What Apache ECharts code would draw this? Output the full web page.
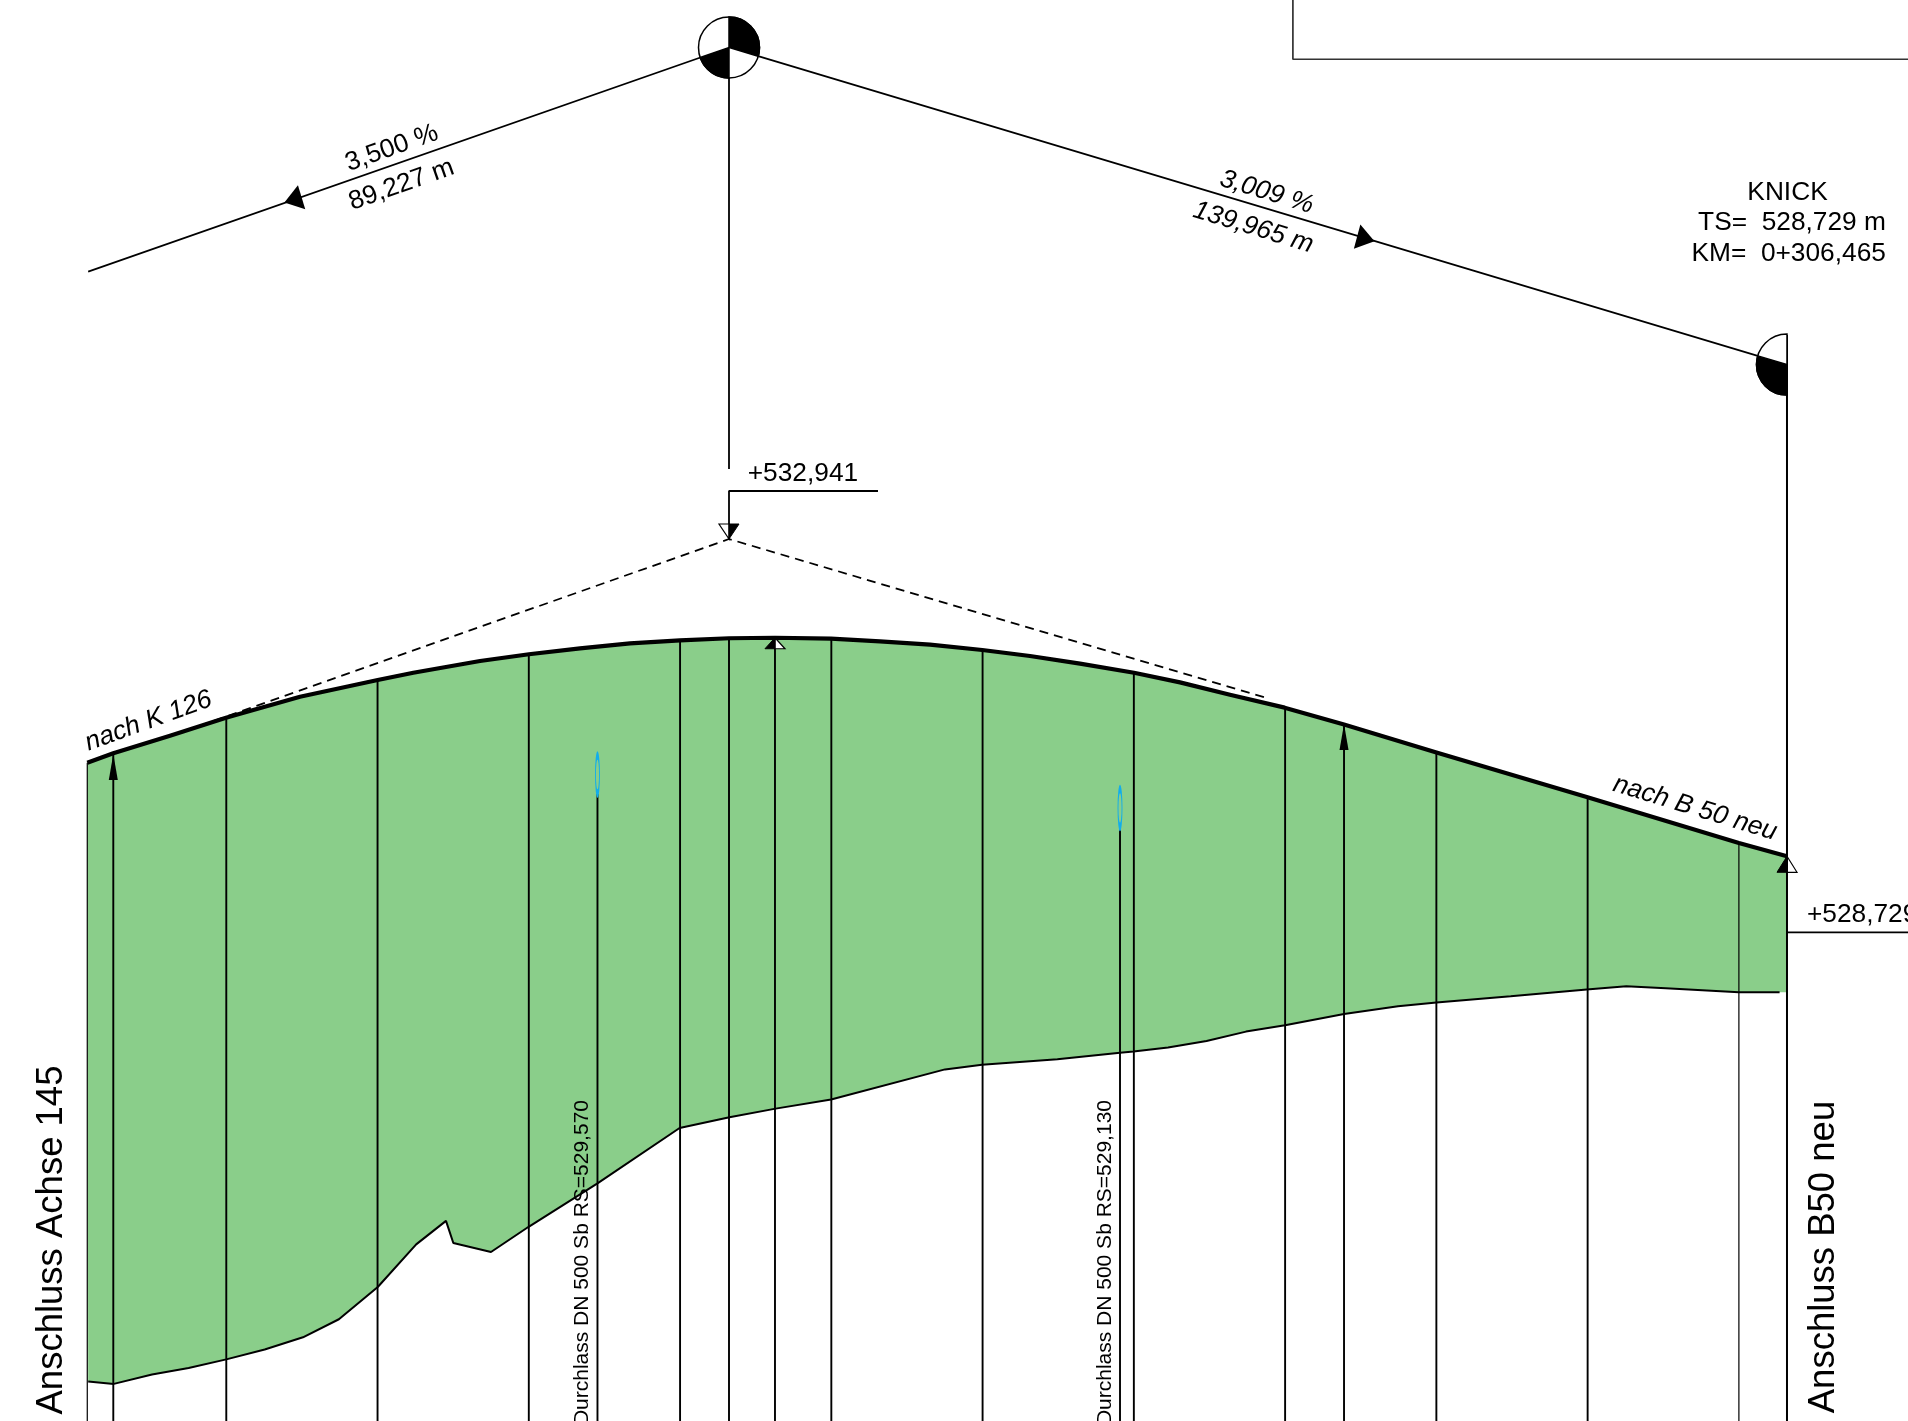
<!DOCTYPE html>
<html>
<head>
<meta charset="utf-8">
<script src="https://cdn.jsdelivr.net/npm/echarts@6/dist/echarts.min.js"></script>
<style>html,body{margin:0;padding:0;background:#fff}#c{width:1908px;height:1421px}</style>
</head>
<body>
<div id="c"></div>
<script>
// Stations (m) and elevations (m) read from the long section
const surfaceS = [81.62,85.06,92.56,99.96,109.75,120.02,124.73,133.55,140.02,146.77,153.38,159.99,166.47,172.55,179.95,186.43,193.05,199.96,206.27,212.88,220.02,226.10,232.71,239.94,247.79,260.01,279.88,300.00,306.36];
const surfaceE = [529.982,530.106,530.339,530.577,530.855,531.076,531.172,531.327,531.416,531.495,531.561,531.601,531.628,531.635,531.622,531.588,531.543,531.473,531.393,531.292,531.172,531.045,530.881,530.710,530.487,530.116,529.528,528.920,528.744];
const groundS = [81.74,85.13,90.18,95.02,100.00,105.08,110.14,114.89,120.03,125.11,129.05,130.02,135.00,139.98,149.08,159.94,166.53,172.64,179.97,195.03,199.92,209.89,218.17,219.95,224.52,229.61,234.83,239.99,247.79,254.93,260.01,269.83,279.88,285.11,290.33,300.00,305.38];
const groundE = [521.795,521.765,521.890,521.975,522.089,522.220,522.381,522.620,523.047,523.610,523.921,523.628,523.509,523.843,524.418,525.150,525.292,525.406,525.527,525.925,525.988,526.060,526.144,526.162,526.216,526.301,526.425,526.509,526.659,526.761,526.809,526.893,526.983,527.024,527.000,526.946,526.946];
const gradeS = [81.74,166.47,306.35];
const gradeE = [536.477,539.443,535.248];
const tangentS = [96.5,166.47,237.2];
const tangentE = [530.47,532.941,530.85];
const stakeS = [81.62,85.06,100,120,140,160,166.47,172.55,180,200,220,240,247.79,260,280,300];
const stakeTopE = [529.982,530.106,530.577,531.076,531.416,531.601,531.628,531.635,531.622,531.473,531.172,530.710,530.487,530.116,529.528,528.920];
const culvertS = [149.08,218.17];
const culvertCentreE = [529.826,529.383];
const culvertBottomE = [529.568,529.118];
const culvertTexts = ['Durchlass DN 500 Sb RS=529,570','Durchlass DN 500 Sb RS=529,130'];
const axisBottomE = 521.274;
const endS = 306.36;
const greenEndE = 526.946;
const texts = ['3,500 %','89,227 m','3,009 %','139,965 m','KNICK','TS=  528,729 m','KM=  0+306,465','+532,941','+528,729','nach K 126','nach B 50 neu','Anschluss Achse 145','Anschluss B50 neu'];
const textS = [121.88,123.17,237.56,235.79,306.43,319.44,319.44,176.25,309.00,89.71,294.19,76.90,311.30];
const textE = [538.110,537.625,537.528,537.061,537.515,537.125,536.708,533.798,527.965,530.531,529.380,523.668,523.443];
const textStyles = [
 {r:19.5,f:26.3},{r:19.5,f:26.3},{r:-17,f:26.3,i:1},{r:-17,f:26.3,i:1},{r:0,f:26.3},{r:0,f:26.3,a:'right'},{r:0,f:26.3,a:'right'},
 {r:0,f:26.3},{r:0,f:26.3,a:'left'},{r:20,f:26.3,i:1},{r:-17,f:26.3,i:1},{r:90,f:36.5},{r:90,f:36.5}];

const FONT = '"Liberation Sans", Arial, sans-serif';
const chart = echarts.init(document.getElementById('c'), null, {renderer:'canvas'});
const zip = (a,b)=>a.map((v,i)=>[v,b[i]]);
const line = (name,data,width,z,extra)=>({type:'line',name,data,showSymbol:false,symbol:'none',silent:true,z,
  lineStyle:Object.assign({color:'#000',width},extra||{})});

const series = [];
// green embankment body
series.push({type:'custom',name:'Body',coordinateSystem:'cartesian2d',z:1,silent:true,data:[[surfaceS[0],surfaceE[0]]],
  renderItem:(p,api)=>{
    const top = zip(surfaceS,surfaceE);
    const low = zip(groundS,groundE).reverse();
    const pts = top.concat([[endS,greenEndE]],low).map(q=>api.coord(q));
    return {type:'polygon',shape:{points:pts},style:{fill:'#8ACE8A',stroke:null}};
  }});
// stakes
stakeS.forEach((s,i)=>series.push(line('Stake',[[s,stakeTopE[i]],[s,axisBottomE]],(s===300||s===81.62)?1.2:1.9,3)));
culvertS.forEach((s,i)=>series.push(line('Culvert',[[s,culvertBottomE[i]],[s,axisBottomE]],1.9,3)));
// ground, surface, grades
series.push(line('Ground',zip(groundS,groundE),2,4));
series.push(line('Surface',zip(surfaceS,surfaceE),4.2,6,{join:'round'}));
series.push(line('Grade',zip(gradeS,gradeE),1.8,5));
series.push(line('Tangent',zip(tangentS,tangentE),1.8,5,{type:[9,6]}));
// VPI leader, level flags, end line, frame
series.push(line('VPI',[[166.47,539.443],[166.47,533.867]],1.8,5));
series.push(line('VPI flag',[[186.17,533.576],[166.47,533.576],[166.47,532.941]],1.8,5));
series.push(line('End',[[306.36,535.64],[306.36,axisBottomE]],2,6));
series.push(line('End flag',[[306.36,527.737],[322.36,527.737]],1.8,5));
series.push(line('Frame',[[241.03,540.071],[241.03,539.287],[322.36,539.287]],1.7,5,{color:'#333'}));
// arrows on grade and on stakes
const tri = (name,data,size,rot)=>({type:'scatter',name,data,symbol:'triangle',symbolSize:size,symbolRotate:rot,silent:true,z:7,itemStyle:{color:'#000',opacity:1}});
series.push(tri('Grade arrow L',[[108.82,537.428]],[25,18],107));
series.push(tri('Grade arrow R',[[250.67,536.910]],[25,18],-105));
series.push(tri('Stake arrow',[[85.06,529.925],[247.79,530.322]],[9,26],0));
// culvert ellipses
series.push({type:'scatter',name:'Culvert ring',data:zip(culvertS,culvertCentreE),symbol:'circle',symbolSize:[4,38],silent:true,z:7,
  itemStyle:{color:'rgba(0,0,0,0)',borderColor:'#12ADEB',borderWidth:2.8,opacity:1}});
// half-filled level triangles
const halfTop = [[172.55,531.635,11],[306.36,528.744,16]];
series.push({type:'custom',name:'Half up',coordinateSystem:'cartesian2d',z:5,silent:true,data:halfTop,
  renderItem:(p,api)=>{
    const c = api.coord([api.value(0),api.value(1)]); const h = api.value(2);
    return {type:'group',children:[
      {type:'polygon',shape:{points:[c,[c[0]+10,c[1]+h],[c[0],c[1]+h]]},style:{fill:'#fff',stroke:'#000',lineWidth:1.2}},
      {type:'polygon',shape:{points:[c,[c[0]-10,c[1]+h],[c[0],c[1]+h]]},style:{fill:'#000',stroke:'#000',lineWidth:1}}
    ]};
  }});
series.push({type:'custom',name:'Half down',coordinateSystem:'cartesian2d',z:6,silent:true,data:[[166.47,532.941]],
  renderItem:(p,api)=>{
    const c = api.coord([api.value(0),api.value(1)]);
    return {type:'group',children:[
      {type:'polygon',shape:{points:[c,[c[0]-10,c[1]-15],[c[0],c[1]-15]]},style:{fill:'#fff',stroke:'#000',lineWidth:1.2}},
      {type:'polygon',shape:{points:[c,[c[0]+10,c[1]-15],[c[0],c[1]-15]]},style:{fill:'#000',stroke:'#000',lineWidth:1}}
    ]};
  }});
// grade break symbols
series.push({type:'custom',name:'Crest',coordinateSystem:'cartesian2d',z:8,silent:true,data:[[gradeS[1],gradeE[1]]],
  renderItem:(p,api)=>{
    const c = api.coord([api.value(0),api.value(1)]); const R=30.5;
    const sec=(a,b,fill)=>({type:'sector',shape:{cx:c[0],cy:c[1],r:R,r0:0,startAngle:a,endAngle:b,clockwise:true},style:{fill,stroke:'#000',lineWidth:1.5}});
    return {type:'group',children:[
      {type:'circle',shape:{cx:c[0],cy:c[1],r:R},style:{fill:'#fff',stroke:'#000',lineWidth:1.5}},
      sec(-Math.PI/2,0.29,'#000'),
      sec(Math.PI/2,Math.PI-0.336,'#000')
    ]};
  }});
series.push({type:'custom',name:'Knick',coordinateSystem:'cartesian2d',z:8,silent:true,data:[[endS,gradeE[2]]],
  renderItem:(p,api)=>{
    const c = api.coord([api.value(0),api.value(1)]); const R=30.5;
    const sec=(a,b,fill)=>({type:'sector',shape:{cx:c[0],cy:c[1],r:R,r0:0,startAngle:a,endAngle:b,clockwise:true},style:{fill,stroke:'#000',lineWidth:1.5}});
    return {type:'group',children:[
      sec(Math.PI/2,Math.PI*1.5,'#fff'),
      sec(Math.PI/2,Math.PI+0.29,'#000')
    ]};
  }});
// texts
series.push({type:'custom',name:'Text',coordinateSystem:'cartesian2d',z:10,silent:true,clip:false,data:texts.map((t,i)=>[textS[i],textE[i],i]),
  renderItem:(p,api)=>{
    const i = api.value(2); const c = api.coord([api.value(0),api.value(1)]); const st=textStyles[i];
    return {type:'text',x:c[0],y:c[1],rotation:st.r*Math.PI/180,
      style:{text:texts[i],fontSize:st.f,fontFamily:FONT,fontStyle:st.i?'italic':'normal',fill:'#000',align:st.a||'center',verticalAlign:'middle'}};
  }});
series.push({type:'custom',name:'Culvert text',coordinateSystem:'cartesian2d',z:10,silent:true,clip:false,data:culvertS.map((s,i)=>[s-2.02,525.520,i]),
  renderItem:(p,api)=>{
    const i = api.value(2); const c = api.coord([api.value(0),api.value(1)]);
    return {type:'text',x:c[0],y:c[1],rotation:Math.PI/2,
      style:{text:culvertTexts[i],fontSize:21,fontFamily:FONT,fill:'#000',align:'right',verticalAlign:'middle'}};
  }});

chart.setOption({
  animation:false,
  backgroundColor:'#fff',
  grid:{left:0,right:0,top:0,bottom:0,containLabel:false},
  xAxis:{type:'value',min:70.08,max:322.36,show:false,splitLine:{show:false}},
  yAxis:{type:'value',min:axisBottomE,max:540.071,show:false,splitLine:{show:false}},
  tooltip:{show:false},
  series
});
</script>
</body>
</html>
